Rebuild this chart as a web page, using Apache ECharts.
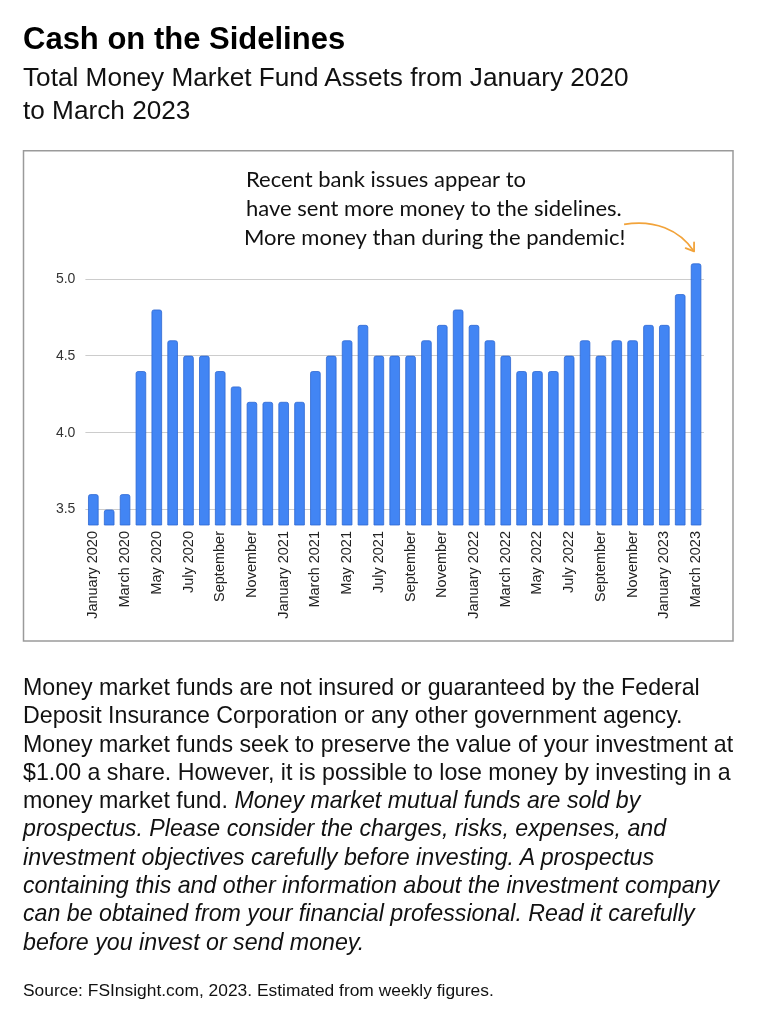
<!DOCTYPE html>
<html>
<head>
<meta charset="utf-8">
<script src="https://cdn.jsdelivr.net/npm/echarts@6/dist/echarts.min.js"></script>
<style>
  html, body { margin: 0; padding: 0; background: #fff; }
  body { width: 758px; height: 1024px; position: relative; overflow: hidden; font-family: "Liberation Sans", Arial, Helvetica, sans-serif; color: #111; }
  #chart { position: absolute; left: 0; top: 0; width: 758px; height: 1024px; }
  .txt { position: absolute; left: 23px; margin: 0; white-space: nowrap; }
  #title { top: 21px; font-size: 31px; line-height: 36px; font-weight: bold; color: #000; }
  #subtitle { top: 60.5px; font-size: 26.2px; line-height: 33px; color: #111; }
  #body { top: 673px; font-size: 23.2px; line-height: 28.3px; color: #111; }
  #source { top: 980px; font-size: 17.4px; line-height: 20px; color: #111; }
</style>
</head>
<body>
<div id="chart"></div>
<div class="txt" id="title">Cash on the Sidelines</div>
<div class="txt" id="subtitle">Total Money Market Fund Assets from January 2020<br>to March 2023</div>
<div class="txt" id="body">Money market funds are not insured or guaranteed by the Federal<br>Deposit Insurance Corporation or any other government agency.<br>Money market funds seek to preserve the value of your investment at<br>$1.00 a share. However, it is possible to lose money by investing in a<br>money market fund. <i>Money market mutual funds are sold by</i><br><i>prospectus. Please consider the charges, risks, expenses, and</i><br><i>investment objectives carefully before investing. A prospectus</i><br><i>containing this and other information about the investment company</i><br><i>can be obtained from your financial professional. Read it carefully</i><br><i>before you invest or send money.</i></div>
<div class="txt" id="source">Source: FSInsight.com, 2023. Estimated from weekly figures.</div>
<script>
const categories = [
  'January 2020','February 2020','March 2020','April 2020','May 2020','June 2020',
  'July 2020','August 2020','September 2020','October 2020','November 2020','December 2020',
  'January 2021','February 2021','March 2021','April 2021','May 2021','June 2021',
  'July 2021','August 2021','September 2021','October 2021','November 2021','December 2021',
  'January 2022','February 2022','March 2022','April 2022','May 2022','June 2022',
  'July 2022','August 2022','September 2022','October 2022','November 2022','December 2022',
  'January 2023','February 2023','March 2023'
];
const values = [
  3.6, 3.5, 3.6, 4.4, 4.8, 4.6,
  4.5, 4.5, 4.4, 4.3, 4.2, 4.2,
  4.2, 4.2, 4.4, 4.5, 4.6, 4.7,
  4.5, 4.5, 4.5, 4.6, 4.7, 4.8,
  4.7, 4.6, 4.5, 4.4, 4.4, 4.4,
  4.5, 4.6, 4.5, 4.6, 4.6, 4.7,
  4.7, 4.9, 5.1
];
// labels shown under every other bar (as truncated in the original)
const tickLabels = [
  'January 2020','March 2020','May 2020','July 2020','September','November',
  'January 2021','March 2021','May 2021','July 2021','September','November',
  'January 2022','March 2022','May 2022','July 2022','September','November',
  'January 2023','March 2023'
];
const yTicks = [3.5, 4.0, 4.5, 5.0];
const annotationLines = [
  'Recent bank issues appear to',
  'have sent more money to the sidelines.',
  'More money than during the pandemic!'
];

const chart = echarts.init(document.getElementById('chart'), null, { renderer: 'canvas' });
const option = {
  animation: false,
  grid: { left: 85.4, right: 54, top: 248, bottom: 499, containLabel: false },
  xAxis: {
    type: 'category',
    data: categories,
    axisLine: { show: false },
    axisTick: { show: false },
    axisLabel: {
      interval: 0,
      rotate: 90,
      margin: 6,
      fontSize: 14.5,
      color: '#222',
      fontFamily: 'Liberation Sans',
      formatter: (v, i) => (i % 2 === 0 ? tickLabels[i / 2] : '')
    }
  },
  yAxis: {
    type: 'value',
    min: 3.4,
    max: 5.2,
    axisLine: { show: false },
    axisTick: { show: false, customValues: yTicks },
    axisLabel: {
      customValues: yTicks,
      formatter: v => v.toFixed(1),
      fontSize: 14,
      color: '#333',
      margin: 10,
      fontFamily: 'Liberation Sans'
    },
    splitLine: { show: true, customValues: yTicks, lineStyle: { color: '#cccccc', width: 1.2 } }
  },
  series: [{
    type: 'bar',
    data: values,
    barWidth: 10.5,
    itemStyle: { color: '#4285f4', borderColor: '#2f68d2', borderWidth: 0.8, borderRadius: [2, 2, 0, 0] }
  }]
};
chart.setOption(option);

const tip = chart.convertToPixel({ seriesIndex: 0 }, [categories.length - 1, values[values.length - 1]]);
const ex = tip[0] - 2, ey = tip[1] - 12;
const annFont = '400 22px Lato, "Open Sans", sans-serif';
chart.setOption({
  graphic: [
    { type: 'rect', shape: { x: 23.5, y: 150.7, width: 709.5, height: 490.3 }, style: { fill: 'none', stroke: '#9a9a9a', lineWidth: 1.5 }, z: 0 },
    { type: 'text', left: 246, top: 169, style: { text: annotationLines[0], font: annFont, fill: '#111' } },
    { type: 'text', left: 246, top: 198, style: { text: annotationLines[1], font: annFont, fill: '#111' } },
    { type: 'text', left: 244, top: 227, style: { text: annotationLines[2], font: annFont, fill: '#111' } },
    { type: 'bezierCurve', shape: { x1: ex - 70, y1: ey - 27, cpx1: ex - 40, cpy1: ey - 32, cpx2: ex - 15, cpy2: ey - 22, x2: ex, y2: ey }, style: { stroke: '#f2a33a', lineWidth: 1.8, fill: 'none' } },
    { type: 'polyline', shape: { points: [[ex - 8.4, ey - 3.2], [ex, ey], [ex, ey - 9]] }, style: { stroke: '#f2a33a', lineWidth: 1.8, fill: 'none', lineJoin: 'round', lineCap: 'round' } }
  ]
});
</script>
</body>
</html>
